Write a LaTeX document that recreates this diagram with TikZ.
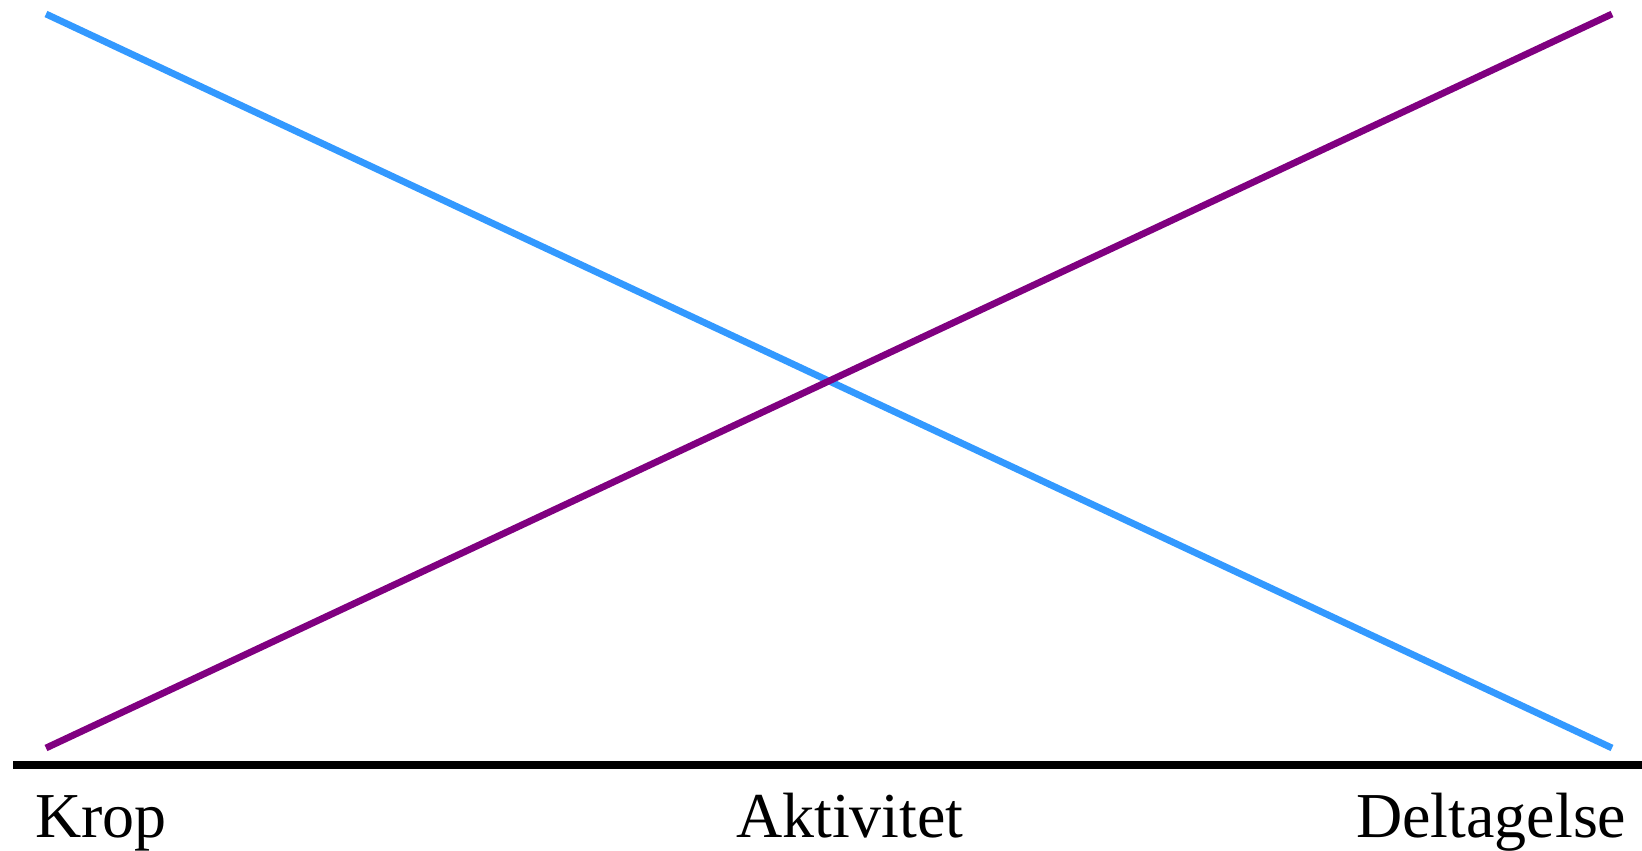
\documentclass[tikz,border=0pt]{standalone}
\usepackage{fontspec}
\setmainfont{Liberation Serif}
\definecolor{lineblue}{HTML}{3399FF}
\definecolor{linepurple}{HTML}{800080}
\begin{document}
\begin{tikzpicture}[x=1pt,y=-1pt,
  lbl/.style={inner sep=0pt,font=\fontsize{64}{70}\selectfont,anchor=base west},
  diag/.style={line width=6.8pt}]
\useasboundingbox (0,0) rectangle (1642,851);
\coordinate (tl) at (46,14);
\coordinate (br) at (1612,748);
\coordinate (bl) at (46,748);
\coordinate (tr) at (1612,14);
\coordinate (axl) at (13,765);
\coordinate (axr) at (1642,765);
\draw[diag,lineblue] (tl) -- (br);
\draw[diag,linepurple] (bl) -- (tr);
\draw[line width=8pt,black] (axl) -- (axr);
\node[lbl] (krop) at (35,837) {Krop};
\node[lbl] (akt) at (736,837) {Aktivitet};
\node[lbl] (del) at (1356,837) {Deltagelse};
\end{tikzpicture}
\end{document}
